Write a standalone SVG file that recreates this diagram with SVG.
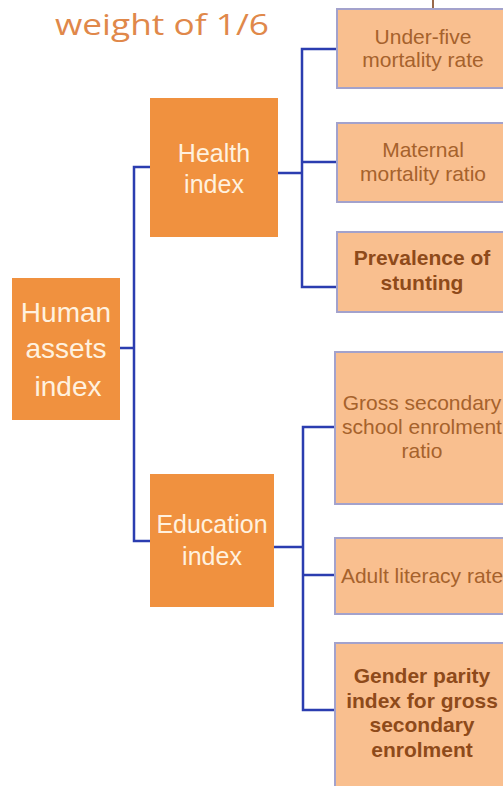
<svg xmlns="http://www.w3.org/2000/svg" width="503" height="786" viewBox="0 0 503 786">
<style>
.dark{fill:#F0913F;}
.light{fill:#F9BF8F;stroke:#A3A2CC;stroke-width:2;}
.wt{font-family:"Liberation Sans",Arial,sans-serif;fill:#FFF1DF;text-anchor:middle;}
.lt{font-family:"Liberation Sans",Arial,sans-serif;fill:#A6622C;font-size:21px;text-anchor:middle;}
.bt{font-family:"Liberation Sans",Arial,sans-serif;fill:#8E4A1A;font-size:21px;font-weight:bold;text-anchor:middle;}
.conn{fill:none;stroke:#2B3DB0;stroke-width:2.5;}
</style>
<rect width="503" height="786" fill="#FFFFFF"/>
<text x="55" y="35" font-family="'Open Sans',Lato,sans-serif" font-size="30" fill="#E0884A" textLength="214" lengthAdjust="spacingAndGlyphs">weight of 1/6</text>
<line x1="433" y1="0" x2="433" y2="8" stroke="#9A6A4A" stroke-width="2"/>
<g id="connectors">
<path class="conn" d="M120 348H134M150 167H134V541H151"/>
<path class="conn" d="M278 173H302M337 49H302V287H337M302 162H337"/>
<path class="conn" d="M274 547H303M335 427H303V710H335"/>
<path class="conn" d="M303 575H335" stroke-width="4"/>
</g>
<g id="human-assets">
<rect class="dark" x="12" y="278" width="108" height="142"/>
<text class="wt" font-size="28" x="66" y="322">Human</text>
<text class="wt" font-size="28" x="66" y="358">assets</text>
<text class="wt" font-size="28" x="68" y="396">index</text>
</g>
<g id="health-index">
<rect class="dark" x="150" y="98" width="128" height="139"/>
<text class="wt" font-size="25" x="214" y="162">Health</text>
<text class="wt" font-size="25" x="214" y="193">index</text>
</g>
<g id="education-index">
<rect class="dark" x="150" y="474" width="124" height="133"/>
<text class="wt" font-size="25" x="212" y="533">Education</text>
<text class="wt" font-size="25" x="212" y="565">index</text>
</g>
<g id="under-five">
<rect class="light" x="337" y="9" width="174" height="79"/>
<text class="lt" x="423" y="44">Under-five</text>
<text class="lt" x="423" y="67">mortality rate</text>
</g>
<g id="maternal">
<rect class="light" x="337" y="123" width="174" height="79"/>
<text class="lt" x="423" y="157">Maternal</text>
<text class="lt" x="423" y="181">mortality ratio</text>
</g>
<g id="stunting">
<rect class="light" x="337" y="232" width="174" height="80"/>
<text class="bt" x="422" y="265">Prevalence of</text>
<text class="bt" x="422" y="290">stunting</text>
</g>
<g id="gross-secondary">
<rect class="light" x="335" y="352" width="176" height="152"/>
<text class="lt" x="422" y="410">Gross secondary</text>
<text class="lt" x="422" y="434">school enrolment</text>
<text class="lt" x="422" y="458">ratio</text>
</g>
<g id="adult-literacy">
<rect class="light" x="335" y="538" width="176" height="76"/>
<text class="lt" x="422" y="583">Adult literacy rate</text>
</g>
<g id="gender-parity">
<rect class="light" x="335" y="643" width="176" height="160"/>
<text class="bt" x="422" y="683">Gender parity</text>
<text class="bt" x="422" y="708">index for gross</text>
<text class="bt" x="422" y="732">secondary</text>
<text class="bt" x="422" y="757">enrolment</text>
</g>
</svg>
